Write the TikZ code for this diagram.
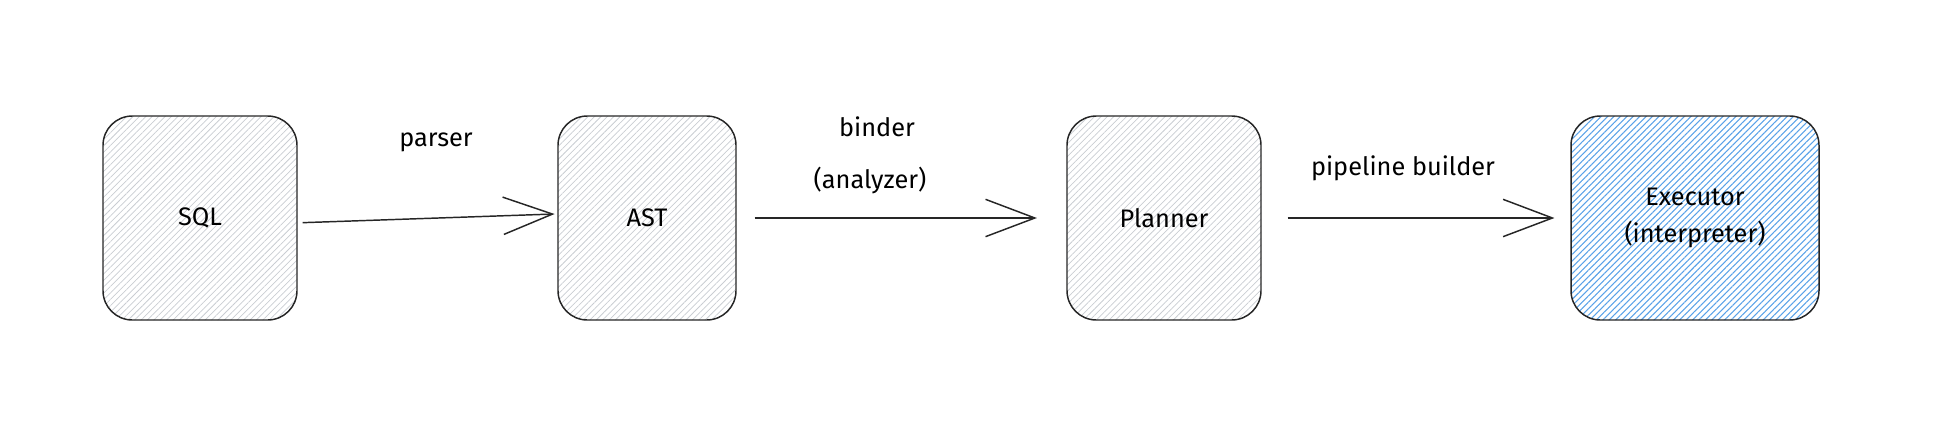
\documentclass[tikz,border=0pt]{standalone}
\usepackage{fontspec}
\setmainfont{Fira Sans}
\usetikzlibrary{arrows.meta,patterns.meta}
\definecolor{hatchgray}{HTML}{C9CDD2}
\definecolor{hatchblue}{HTML}{5AA2E8}
\begin{document}
\begin{tikzpicture}[x=0.75pt,y=-0.75pt,
  stage/.style={draw=black!85,line width=1.1pt,rounded corners=22pt,
    minimum height=153pt,inner sep=0pt,align=center,
    font=\fontsize{19}{28}\selectfont,
    pattern={Lines[angle=45,distance=3.4pt,line width=0.55pt]},pattern color=hatchgray},
  active/.style={stage,pattern={Lines[angle=45,distance=3.4pt,line width=0.8pt]},pattern color=hatchblue},
  flow/.style={draw=black!85,line width=1.1pt,-{Straight Barb[length=37pt,width=28pt,line width=1.1pt]}},
  lbl/.style={font=\fontsize{19}{22}\selectfont,inner sep=0pt}]
\useasboundingbox (0,0) rectangle (1960,429);
\node[stage,minimum width=145.5pt] (sql) at (200,218) {SQL};
\node[stage,minimum width=133.5pt] (ast) at (647,218) {AST};
\node[stage,minimum width=145.5pt] (planner) at (1164,218) {Planner};
\node[active,minimum width=186pt] (executor) at (1695,218) {Executor\\(interpreter)};
\draw[flow] ([xshift=4pt,yshift=-3.5pt]sql.east) -- ([xshift=-2pt,yshift=3pt]ast.west);
\draw[flow] ([xshift=13.5pt]ast.east) -- ([xshift=-22pt]planner.west);
\draw[flow] ([xshift=19.5pt]planner.east) -- ([xshift=-12pt]executor.west);
\node[lbl] (parser) at (436,142) {parser};
\node[lbl] (binder) at (877,127) {binder};
\node[lbl] (analyzer) at (870,180) {(analyzer)};
\node[lbl] (builder) at (1403,168) {pipeline builder};
\end{tikzpicture}
\end{document}
